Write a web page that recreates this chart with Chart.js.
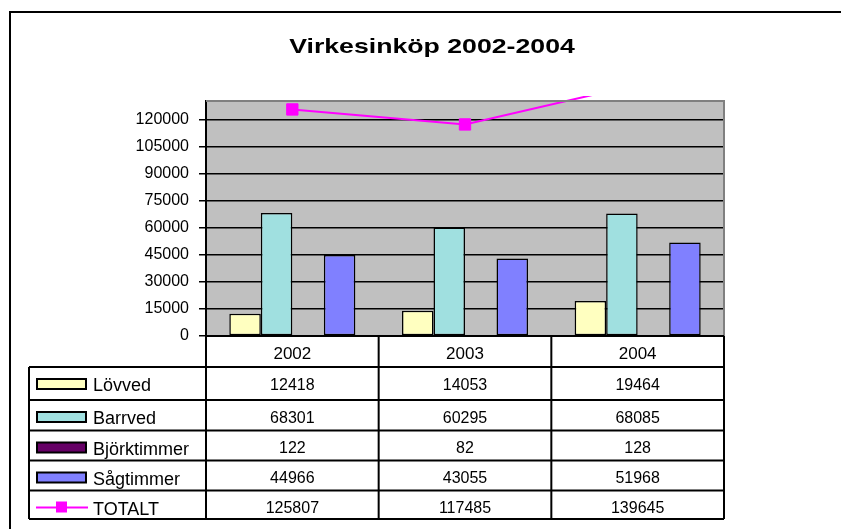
<!DOCTYPE html>
<html>
<head>
<meta charset="utf-8">
<title>Virkesinköp 2002-2004</title>
<script src="https://cdn.jsdelivr.net/npm/chart.js@4/dist/chart.umd.min.js"></script>
<style>
  html, body { margin: 0; padding: 0; background: #fff; }
  #wrap { width: 841px; height: 529px; }
</style>
</head>
<body>
<div id="wrap"><canvas id="chart" width="841" height="529"></canvas></div>
<script>
// Data
const categories = ['2002', '2003', '2004'];
const seriesNames = ['Lövved', 'Barrved', 'Björktimmer', 'Sågtimmer', 'TOTALT'];
const lovved = [12418, 14053, 19464];
const barrved = [68301, 60295, 68085];
const bjorktimmer = [122, 82, 128];
const sagtimmer = [44966, 43055, 51968];
const totalt = [125807, 117485, 139645];
const yTickValues = [0, 15000, 30000, 45000, 60000, 75000, 90000, 105000, 120000];

const FONT = '"Liberation Sans", Arial, sans-serif';
const COLORS = {
  lovved: '#FFFFC0',
  barrved: '#A0E0E0',
  bjork: '#660066',
  sag: '#8080FF',
  total: '#FF00FF',
  plot: '#C0C0C0',
  plotEdge: '#808080'
};

// row boundaries of the data table (below the plot)
const ROW_TOPS = [367, 400, 430.5, 460.5, 490.5, 519];
const TABLE_LEFT = 29;

const backdrop = {
  id: 'backdrop',
  beforeDraw(chart) {
    const { ctx, chartArea: a } = chart;
    ctx.save();
    ctx.fillStyle = '#fff';
    ctx.fillRect(0, 0, chart.width, chart.height);
    ctx.fillStyle = COLORS.plot;
    ctx.fillRect(a.left, a.top, a.right - a.left, a.bottom - a.top);
    // outer frame
    ctx.strokeStyle = '#000';
    ctx.lineWidth = 2;
    ctx.beginPath();
    ctx.moveTo(10, chart.height);
    ctx.lineTo(10, 12);
    ctx.lineTo(chart.width, 12);
    ctx.stroke();
    // title, stretched like the original
    ctx.fillStyle = '#000';
    ctx.font = 'bold 21px ' + FONT;
    ctx.textAlign = 'center';
    ctx.textBaseline = 'alphabetic';
    ctx.translate(432, 53);
    ctx.scale(1.27, 1);
    ctx.fillText('Virkesinköp 2002-2004', 0, 0);
    ctx.restore();
  },
  afterDraw(chart) {
    const { ctx, chartArea: a } = chart;
    ctx.save();
    ctx.strokeStyle = COLORS.plotEdge;
    ctx.lineWidth = 2;
    ctx.beginPath();
    ctx.moveTo(a.left, a.top);
    ctx.lineTo(a.right, a.top);
    ctx.lineTo(a.right, a.bottom);
    ctx.stroke();
    ctx.restore();
  }
};

const dataTable = {
  id: 'dataTable',
  afterDraw(chart) {
    const { ctx, chartArea: a } = chart;
    const xs = chart.scales.x;
    const colW = (a.right - a.left) / categories.length;
    ctx.save();
    ctx.strokeStyle = '#000';
    ctx.lineWidth = 2;
    ctx.beginPath();
    ctx.moveTo(a.left, a.bottom);
    ctx.lineTo(a.right, a.bottom);
    ROW_TOPS.forEach(y => {
      ctx.moveTo(TABLE_LEFT, y);
      ctx.lineTo(a.right, y);
    });
    ctx.moveTo(TABLE_LEFT, ROW_TOPS[0]);
    ctx.lineTo(TABLE_LEFT, ROW_TOPS[ROW_TOPS.length - 1]);
    for (let i = 0; i <= categories.length; i++) {
      const x = a.left + i * colW;
      ctx.moveTo(x, a.bottom);
      ctx.lineTo(x, ROW_TOPS[ROW_TOPS.length - 1]);
    }
    ctx.stroke();

    ctx.fillStyle = '#000';
    ctx.textAlign = 'center';
    ctx.textBaseline = 'alphabetic';
    ctx.font = '17px ' + FONT;
    categories.forEach((c, i) => {
      ctx.fillText(c, xs.getPixelForValue(i), 359);
    });

    chart.data.datasets.forEach((ds, r) => {
      const top = ROW_TOPS[r];
      // legend key
      ctx.lineWidth = 2;
      if (ds.type === 'line') {
        ctx.strokeStyle = ds.borderColor;
        ctx.beginPath();
        ctx.moveTo(36, top + 17);
        ctx.lineTo(88, top + 17);
        ctx.stroke();
        ctx.fillStyle = ds.borderColor;
        ctx.fillRect(56, top + 11, 11, 11);
      } else {
        ctx.fillStyle = ds.backgroundColor;
        ctx.strokeStyle = '#000';
        ctx.fillRect(37, top + 12, 49, 10);
        ctx.strokeRect(37, top + 12, 49, 10);
      }
      ctx.fillStyle = '#000';
      ctx.textAlign = 'left';
      ctx.font = '18px ' + FONT;
      ctx.fillText(ds.label, 93, top + 24);
      ctx.textAlign = 'center';
      ctx.font = '16px ' + FONT;
      ds.data.forEach((v, i) => {
        ctx.fillText(String(v), xs.getPixelForValue(i), top + 22.5);
      });
    });
    ctx.restore();
  }
};

function bar(label, data, color) {
  return {
    type: 'bar',
    label: label,
    data: data,
    backgroundColor: color,
    borderColor: '#000',
    borderWidth: 1.5,
    borderSkipped: false,
    barPercentage: 1,
    categoryPercentage: 0.73,
    order: 1
  };
}

new Chart(document.getElementById('chart'), {
  data: {
    labels: categories,
    datasets: [
      bar(seriesNames[0], lovved, COLORS.lovved),
      bar(seriesNames[1], barrved, COLORS.barrved),
      bar(seriesNames[2], bjorktimmer, COLORS.bjork),
      bar(seriesNames[3], sagtimmer, COLORS.sag),
      {
        type: 'line',
        label: seriesNames[4],
        data: totalt,
        borderColor: COLORS.total,
        backgroundColor: COLORS.total,
        borderWidth: 2,
        pointStyle: 'rect',
        pointRadius: 8,
        pointBorderWidth: 1,
        pointBackgroundColor: COLORS.total,
        pointBorderColor: COLORS.total,
        tension: 0,
        clip: { left: 0, top: 5, right: 0, bottom: 0 },
        order: 0
      }
    ]
  },
  options: {
    responsive: false,
    animation: false,
    events: [],
    layout: { padding: { left: 0, top: 101, right: 117, bottom: 193 } },
    plugins: {
      legend: { display: false },
      title: { display: false },
      tooltip: { enabled: false }
    },
    scales: {
      x: {
        display: false,
        offset: true
      },
      y: {
        min: 0,
        max: 130500,
        afterBuildTicks: axis => {
          axis.ticks = yTickValues.map(v => ({ value: v }));
        },
        afterFit: axis => { axis.width = 206; },
        border: { display: true, color: '#000', width: 2 },
        grid: {
          color: '#000',
          lineWidth: 1.5,
          drawTicks: true,
          tickLength: 7,
          tickColor: '#000',
          tickWidth: 1.5
        },
        ticks: {
          color: '#000',
          padding: 10,
          font: { family: FONT, size: 16 },
          callback: v => String(v)
        }
      }
    }
  },
  plugins: [backdrop, dataTable]
});
</script>
</body>
</html>
